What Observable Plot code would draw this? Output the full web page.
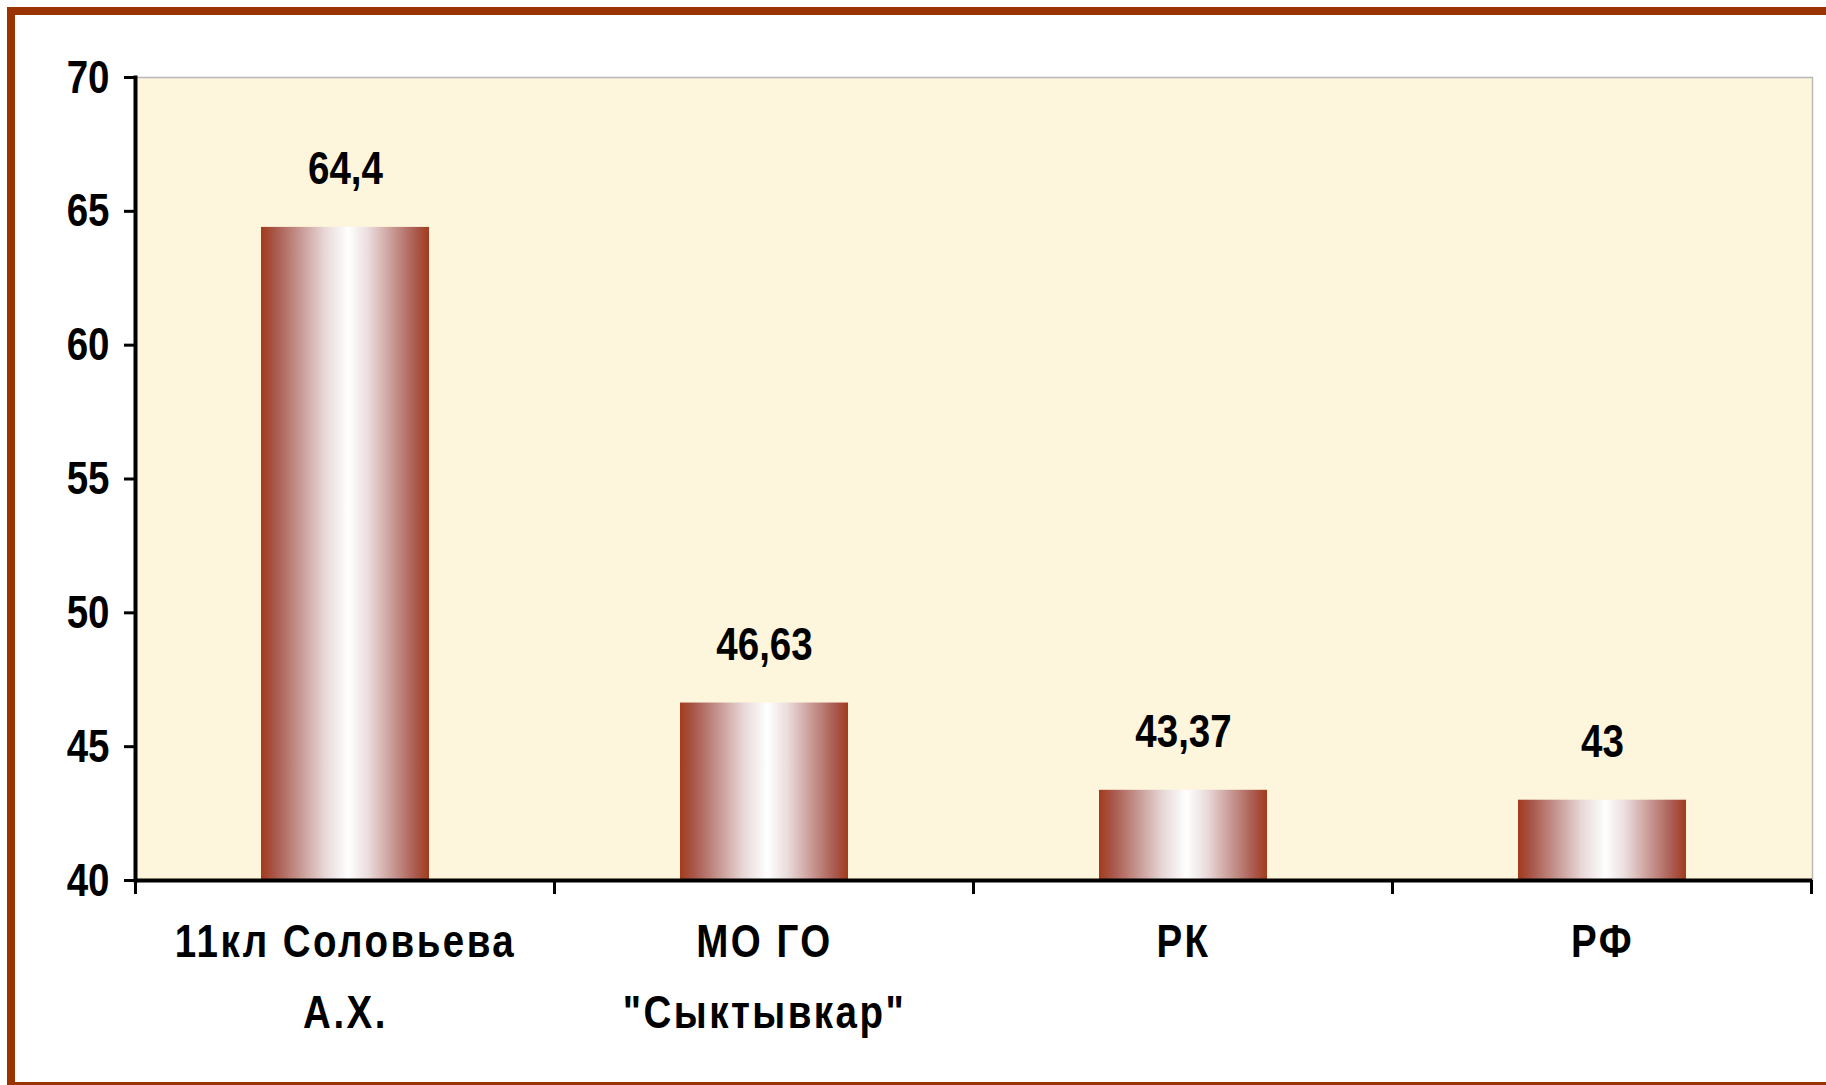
<!DOCTYPE html>
<html>
<head>
<meta charset="utf-8">
<script src="https://cdn.jsdelivr.net/npm/d3@7"></script>
<script src="https://cdn.jsdelivr.net/npm/@observablehq/plot@0.6"></script>
<style>
  html, body { margin: 0; padding: 0; background: #ffffff; overflow: hidden; width: 1826px; height: 1085px; }
  #frame { position: absolute; left: 7px; top: 7px; width: 1900px; height: 1083px; box-sizing: border-box; border: 8px solid #993300; background: #ffffff; }
  #chart { position: absolute; left: 0; top: 0; }
</style>
</head>
<body>
<div id="frame"></div>
<div id="chart"></div>
<script>
const categories = ["11кл Соловьева\nА.Х.", "МО ГО\n\"Сыктывкар\"", "РК", "РФ"];
const values = [64.4, 46.63, 43.37, 43];
const valueLabels = ["64,4", "46,63", "43,37", "43"];
const yTicks = [40, 45, 50, 55, 60, 65, 70];
const yDomain = [40, 70];

const data = categories.map((c, i) => ({cat: c, value: values[i], label: valueLabels[i]}));
const font = "'Liberation Sans', Arial, sans-serif";
const narrow = 0.82; // Arial Narrow is Arial compressed horizontally

const plot = Plot.plot({
  width: 1826,
  height: 1085,
  marginLeft: 135,
  marginRight: 14,
  marginTop: 77,
  marginBottom: 205,
  style: {background: "transparent", fontFamily: font, fontWeight: "bold", fontSize: "47px", color: "#000", overflow: "visible"},
  x: {domain: categories, paddingInner: 0.6, paddingOuter: 0.3, axis: null},
  y: {domain: yDomain, axis: null},
  marks: [
    Plot.frame({fill: "#fdf5dc", stroke: "#b8b8b8", strokeWidth: 1.5}),
    Plot.barY(data, {x: "cat", y1: 40, y2: "value", fill: "url(#barGrad)"}),
    Plot.text(data, {x: "cat", y: "value", text: "label", lineAnchor: "middle", dy: -58, fill: "#000"}),
    Plot.axisY({ticks: yTicks, tickSize: 11, tickPadding: 15, strokeWidth: 3, label: null, tickFormat: d => String(d)}),
    Plot.frame({anchor: "left", strokeWidth: 4, stroke: "#000"}),
    Plot.ruleY([40], {strokeWidth: 4, stroke: "#000"}),
    Plot.text(data, {x: "cat", y: 40, text: "cat", lineAnchor: "top", dy: 26, lineHeight: 1.51, fill: "#000"})
  ]
});

const svg = d3.select(plot);
const defs = svg.insert("defs", ":first-child");
const g = defs.append("linearGradient").attr("id", "barGrad").attr("x1", "0").attr("x2", "1").attr("y1", "0").attr("y2", "0");
[[0, "#a23c1c"], [0.08, "#a8564a"], [0.22, "#c4928c"], [0.38, "#e8d8d8"], [0.52, "#ffffff"], [0.64, "#eadcdc"], [0.8, "#c4928c"], [0.93, "#a8564a"], [1, "#a23c1c"]]
  .forEach(([o, c]) => g.append("stop").attr("offset", o).attr("stop-color", c));

// category boundary ticks on the x axis, positioned with Plot's x/y scales
const xs = plot.scale("x"), ys = plot.scale("y");
const y0 = ys.apply(40);
const half = xs.step / 2;
const bounds = categories.map(c => xs.apply(c) + xs.bandwidth / 2 - half);
bounds.push(xs.apply(categories[categories.length - 1]) + xs.bandwidth / 2 + half);
const tg = svg.append("g").attr("stroke", "#000").attr("stroke-width", 3);
bounds.forEach(b => tg.append("line").attr("x1", b).attr("x2", b).attr("y1", y0).attr("y2", y0 + 14));

// narrow the type (Arial Narrow look) and letter-space the category labels
const catFlat = new Set(categories.map(c => c.replace(/\n/g, "")));
svg.selectAll("text").each(function() {
  const t = this.getAttribute("transform");
  if (t) this.setAttribute("transform", t + ` scale(${narrow},1)`);
  else {
    const x = +this.getAttribute("x") || 0;
    this.setAttribute("transform", `translate(${x},0) scale(${narrow},1) translate(${-x},0)`);
  }
  if (catFlat.has(this.textContent)) this.style.letterSpacing = "3px";
});
document.getElementById("chart").appendChild(plot);
</script>
</body>
</html>
